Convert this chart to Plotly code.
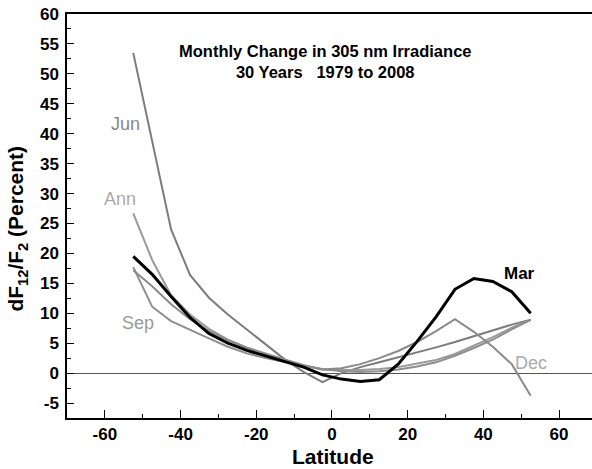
import plotly.graph_objects as go

# latitude centres of the 5-degree bands
lat = [-52.5, -47.5, -42.5, -37.5, -32.5, -27.5, -22.5, -17.5, -12.5, -7.5, -2.5,
       2.5, 7.5, 12.5, 17.5, 22.5, 27.5, 32.5, 37.5, 42.5, 47.5, 52.5]

jun = [53.5, 38.5, 24.0, 16.4, 12.6, 9.8, 7.3, 4.9, 2.3, 0.2, -1.5,
       0.0, 1.0, 1.8, 2.6, 3.4, 4.3, 5.2, 6.2, 7.2, 8.1, 8.9]
ann = [26.7, 18.9, 13.0, 9.8, 7.4, 5.6, 4.3, 3.2, 2.2, 1.3, 0.6,
       0.5, 0.5, 0.7, 1.0, 1.6, 2.2, 3.2, 4.6, 6.0, 7.6, 8.9]
sep = [17.7, 11.1, 8.7, 7.2, 5.8, 4.4, 3.3, 2.5, 1.8, 1.2, 0.7,
       0.3, 0.2, 0.3, 0.6, 1.1, 1.8, 2.9, 4.2, 5.6, 7.3, 8.9]
dec = [17.2, 14.5, 11.5, 9.0, 7.0, 5.5, 4.2, 3.2, 2.2, 1.3, 0.6,
       0.8, 1.5, 2.5, 3.7, 5.2, 7.0, 9.0, 6.9, 4.4, 1.5, -3.8]
mar = [19.5, 16.5, 12.8, 9.3, 6.6, 5.0, 3.8, 2.9, 2.0, 1.0, -0.3,
       -1.0, -1.4, -1.1, 1.5, 5.3, 9.4, 14.0, 15.8, 15.3, 13.6, 10.0]

x_ticks = [-60, -40, -20, 0, 20, 40, 60]
x_ticktext = ["-60", "-40", "-20", "0", "20", "40", "60"]
y_ticks = [-5, 0, 5, 10, 15, 20, 25, 30, 35, 40, 45, 50, 55, 60]
y_ticktext = ["-5", "0", "5", "10", "15", "20", "25", "30", "35", "40", "45", "50", "55", "60"]

FONT = "Liberation Sans, Arial, sans-serif"

fig = go.Figure()
for name, vals, col in [("Jun", jun, "#7c7c7c"), ("Ann", ann, "#9a9a9a"),
                        ("Sep", sep, "#8e8e8e"), ("Dec", dec, "#8a8a8a")]:
    fig.add_trace(go.Scatter(x=lat, y=vals, mode="lines", name=name,
                             line=dict(color=col, width=2)))
fig.add_trace(go.Scatter(x=lat, y=mar, mode="lines", name="Mar",
                         line=dict(color="#000000", width=3)))

# curve labels
labels = [("Jun", -54.6, 41.6, "#888888", False),
          ("Ann", -55.9, 29.1, "#aaaaaa", False),
          ("Sep", -51.3, 8.4, "#999999", False),
          ("Dec", 52.6, 1.7, "#aaaaaa", False),
          ("Mar", 49.5, 16.6, "#000000", True)]
for txt, lx, ly, col, bold in labels:
    fig.add_annotation(x=lx, y=ly, text=f"<b>{txt}</b>" if bold else txt,
                       showarrow=False, xanchor="center", yanchor="middle",
                       font=dict(family=FONT, size=17 if bold else 18, color=col))

fig.add_annotation(x=-1.9, y=52.1,
                   text="<b>Monthly Change in 305 nm Irradiance</b><br><b>30 Years   1979 to 2008</b>",
                   showarrow=False, xanchor="center", yanchor="middle", align="center",
                   font=dict(family=FONT, size=16.5, color="#000"))

fig.add_annotation(x=-0.0943, y=0.47, xref="paper", yref="paper", textangle=-90,
                   text="<b>dF<sub>12</sub>/F<sub>2</sub> (Percent)</b>",
                   showarrow=False, xanchor="center", yanchor="middle",
                   font=dict(family=FONT, size=21, color="#000"))

fig.add_annotation(x=0.4, y=-0.0965, yref="paper", text="<b>Latitude</b>",
                   showarrow=False, xanchor="center", yanchor="middle",
                   font=dict(family=FONT, size=21, color="#000"))

fig.update_layout(
    width=592, height=469,
    margin=dict(l=67, r=0, t=14, b=51),
    plot_bgcolor="white", paper_bgcolor="white",
    showlegend=False,
    font=dict(family=FONT, color="#000"),
)
fig.update_xaxes(
    range=[-70, 68.7], tickvals=x_ticks,
    ticktext=[f"<b>{t}</b>" for t in x_ticktext],
    ticks="inside", ticklen=8, tickwidth=1, tickcolor="#000",
    minor=dict(dtick=10, tick0=0, ticks="inside", ticklen=4, tickcolor="#000"),
    showline=True, linecolor="#000", linewidth=1.5, mirror=True,
    showgrid=False, zeroline=False,
    tickfont=dict(family=FONT, size=17),
)
fig.update_yaxes(
    range=[-7.5, 60], tickvals=y_ticks,
    ticktext=[f"<b>{t}</b>" for t in y_ticktext],
    ticks="inside", ticklen=7, tickwidth=1, tickcolor="#000",
    minor=dict(dtick=2.5, tick0=0, ticks="inside", ticklen=4, tickcolor="#000"),
    showline=True, linecolor="#000", linewidth=1.5, mirror=False,
    showgrid=False, zeroline=True, zerolinecolor="#555", zerolinewidth=1,
    tickfont=dict(family=FONT, size=17), ticklabelstandoff=3,
)

# drop the browser's default 8px body margin so the figure sits at the page corner
fig.write_html("out.html", config={"displayModeBar": False},
               post_script="document.body.style.margin='0px';")
